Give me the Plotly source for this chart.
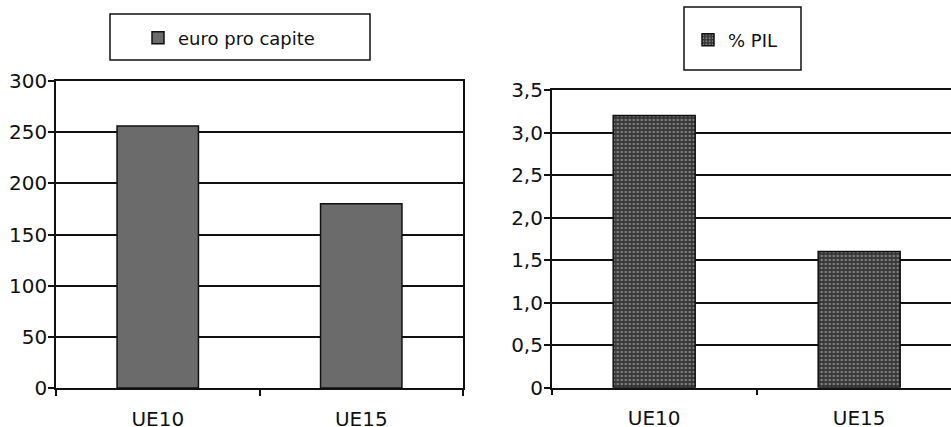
import plotly.graph_objects as go

categories = ["UE10", "UE15"]
euro_pro_capite = [256, 180]
pil_pct = [3.2, 1.6]

left_ticks = [0, 50, 100, 150, 200, 250, 300]
left_ticktext = ["0", "50", "100", "150", "200", "250", "300"]
right_ticks = [0, 0.5, 1.0, 1.5, 2.0, 2.5, 3.0, 3.5]
right_ticktext = ["0", "0,5", "1,0", "1,5", "2,0", "2,5", "3,0", "3,5"]

W, H = 951, 427
FONT = "DejaVu Sans"

fig = go.Figure()
fig.add_trace(go.Bar(
    x=categories, y=euro_pro_capite, name="euro pro capite",
    xaxis="x", yaxis="y", legend="legend",
    marker=dict(color="#6b6b6b", line=dict(color="#111", width=1.5)),
    width=0.4,
))
fig.add_trace(go.Bar(
    x=categories, y=pil_pct, name="% PIL",
    xaxis="x2", yaxis="y2", legend="legend2",
    marker=dict(color="#353535", line=dict(color="#111", width=1.5),
                pattern=dict(shape=".", fgcolor="#c8c8c8", bgcolor="#353535",
                             size=4, solidity=0.35)),
    width=0.4,
))

def px_x(p):
    return p / W

def px_y(p):
    return 1 - p / H

axis_common = dict(
    showline=True, linecolor="#111", linewidth=1.5,
    ticks="outside", ticklen=6, tickcolor="#111", tickwidth=1.5,
    tickfont=dict(family=FONT, size=20, color="#111"),
    automargin=False,
)

fig.update_layout(
    width=W, height=H,
    margin=dict(l=0, r=0, t=0, b=0, autoexpand=False),
    paper_bgcolor="white", plot_bgcolor="white",
    showlegend=True,
    xaxis=dict(domain=[px_x(56), px_x(463)], anchor="y",
               type="category", tickson="boundaries", showgrid=False,
               mirror=True, range=[-0.5, 1.5], ticklabelstandoff=12,
               **axis_common),
    yaxis=dict(domain=[px_y(388), px_y(81)], anchor="x",
               range=[0, 300], tickvals=left_ticks, ticktext=left_ticktext,
               showgrid=True, gridcolor="#111", gridwidth=1.5, zeroline=False,
               mirror=True, ticklabelstandoff=-3,
               **axis_common),
    xaxis2=dict(domain=[px_x(551.7), 1.0], anchor="y2",
                type="category", tickson="boundaries", showgrid=False,
                mirror=True, range=[-0.5, 1.448], ticklabelstandoff=12,
                **axis_common),
    yaxis2=dict(domain=[px_y(387.7), px_y(90)], anchor="x2",
                range=[0, 3.5], tickvals=right_ticks, ticktext=right_ticktext,
                showgrid=True, gridcolor="#111", gridwidth=1.5, zeroline=False,
                ticklabelstandoff=-3,
                **axis_common),
    legend=dict(x=px_x(138), y=px_y(38), xanchor="left", yanchor="middle",
                bgcolor="rgba(0,0,0,0)", borderwidth=0,
                font=dict(family=FONT, size=18, color="#111")),
    legend2=dict(x=px_x(688), y=px_y(40), xanchor="left", yanchor="middle",
                 bgcolor="rgba(0,0,0,0)", borderwidth=0,
                 font=dict(family=FONT, size=18, color="#111")),
    shapes=[
        dict(type="rect", xref="paper", yref="paper",
             x0=px_x(110), x1=px_x(370), y0=px_y(60), y1=px_y(14),
             line=dict(color="#111", width=1.5), fillcolor="rgba(0,0,0,0)"),
        dict(type="rect", xref="paper", yref="paper",
             x0=px_x(684), x1=px_x(801), y0=px_y(70), y1=px_y(7),
             line=dict(color="#111", width=1.5), fillcolor="rgba(0,0,0,0)"),
    ],
)

fig.write_html(
    "out.html",
    config={"displayModeBar": False},
    post_script="document.body.style.margin='0';document.body.style.padding='0';",
)
